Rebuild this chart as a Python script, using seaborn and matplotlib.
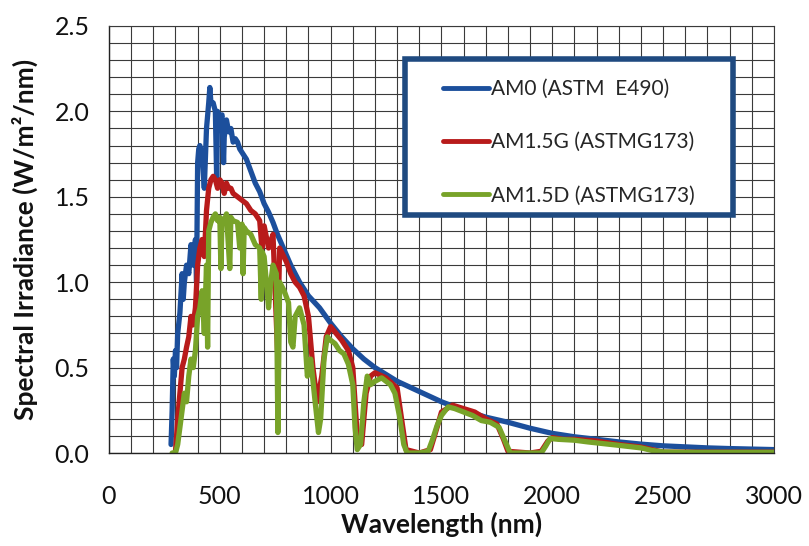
import numpy as np
import pandas as pd
import matplotlib
matplotlib.use("Agg")
import matplotlib.pyplot as plt
import matplotlib.patches as mpatches
import seaborn as sns
from matplotlib.ticker import MultipleLocator

# ---------------- data ----------------
series_names = ["AM0 (ASTM  E490)", "AM1.5G (ASTMG173)", "AM1.5D (ASTMG173)"]

am0_wl = [280, 285, 290, 295, 300, 305, 310, 320, 330, 335, 340, 350, 360, 370, 380,
          390, 395, 400, 405, 410, 420, 430, 440, 450, 455, 460, 470, 480, 486, 490,
          500, 510, 517, 520, 530, 540, 550, 560, 570, 580, 590, 600, 620, 640, 660,
          680, 700, 720, 740, 760, 780, 800, 820, 840, 860, 880, 900, 950, 1000, 1050,
          1100, 1150, 1200, 1250, 1300, 1350, 1400, 1450, 1500, 1600, 1700, 1800, 1900,
          2000, 2100, 2200, 2300, 2400, 2500, 2600, 2700, 2800, 2900, 3000]
am0_val = [0.05, 0.25, 0.55, 0.45, 0.60, 0.50, 0.70, 0.82, 1.05, 0.90, 1.00, 1.10, 1.05, 1.22, 1.10,
           1.25, 1.00, 1.70, 1.78, 1.80, 1.75, 1.55, 1.90, 2.05, 2.14, 2.05, 2.05, 2.00, 1.60, 2.00,
           1.95, 1.98, 1.70, 1.85, 1.95, 1.88, 1.90, 1.82, 1.84, 1.82, 1.78, 1.76, 1.72, 1.65, 1.58,
           1.53, 1.46, 1.41, 1.35, 1.28, 1.22, 1.16, 1.10, 1.05, 1.00, 0.96, 0.92, 0.85, 0.76, 0.68,
           0.61, 0.55, 0.50, 0.46, 0.42, 0.39, 0.36, 0.33, 0.30, 0.25, 0.21, 0.18, 0.145,
           0.115, 0.095, 0.08, 0.065, 0.052, 0.042, 0.036, 0.030, 0.026, 0.023, 0.020]

g_wl = [295, 300, 305, 310, 320, 330, 340, 350, 360, 370, 380, 390, 400, 410, 420,
        430, 440, 450, 460, 470, 480, 490, 500, 510, 520, 530, 540, 550, 560, 580,
        600, 620, 640, 660, 680, 690, 700, 720, 740, 760, 770, 800, 820, 840, 860,
        880, 900, 920, 940, 960, 980, 1000, 1050, 1080, 1100, 1120, 1140, 1160, 1180, 1200,
        1250, 1300, 1320, 1340, 1400, 1450, 1480, 1500, 1550, 1600, 1650, 1700, 1750, 1780,
        1800, 1900, 1950, 1980, 2000, 2050, 2100, 2200, 2300, 2400, 2450, 2500, 3000]
g_val = [0.0, 0.01, 0.10, 0.20, 0.35, 0.50, 0.55, 0.62, 0.68, 0.80, 0.75, 0.85, 1.10, 1.20, 1.25,
         1.15, 1.42, 1.55, 1.60, 1.62, 1.60, 1.55, 1.60, 1.58, 1.52, 1.58, 1.55, 1.55, 1.52, 1.50,
         1.48, 1.46, 1.42, 1.40, 1.36, 1.20, 1.33, 1.20, 1.28, 0.60, 1.20, 1.12, 1.05, 1.00, 0.97,
         0.92, 0.80, 0.50, 0.30, 0.45, 0.68, 0.74, 0.66, 0.60, 0.50, 0.10, 0.05, 0.35, 0.45, 0.47,
         0.44, 0.38, 0.20, 0.02, 0.0, 0.02, 0.15, 0.24, 0.28, 0.26, 0.24, 0.20, 0.17, 0.08,
         0.01, 0.0, 0.01, 0.07, 0.09, 0.08, 0.08, 0.07, 0.05, 0.035, 0.02, 0.005, 0.005]

d_wl = [285, 300, 310, 320, 330, 340, 350, 360, 370, 380, 390, 400, 410, 420, 430,
        440, 445, 450, 460, 470, 480, 490, 500, 505, 510, 520, 530, 545, 550, 560,
        580, 590, 600, 605, 610, 620, 640, 650, 660, 680, 687, 690, 700, 720, 730,
        740, 755, 762, 770, 790, 810, 820, 830, 840, 860, 880, 895, 910, 930, 945,
        955, 970, 985, 1000, 1020, 1040, 1060, 1080, 1100, 1110, 1120, 1135, 1150, 1165, 1180,
        1200, 1230, 1250, 1270, 1290, 1310, 1330, 1345, 1400, 1440, 1460, 1480, 1500, 1530, 1560,
        1600, 1640, 1680, 1720, 1760, 1790, 1810, 1900, 1950, 1970, 1990, 2030, 2100, 2160, 2230,
        2300, 2400, 2450, 2500, 2600, 3000]
d_val = [0.0, 0.0, 0.05, 0.15, 0.25, 0.35, 0.30, 0.45, 0.55, 0.50, 0.60, 0.80, 0.85, 0.95, 0.70,
         1.10, 0.62, 1.30, 1.35, 1.38, 1.40, 1.36, 1.38, 1.08, 1.37, 1.35, 1.40, 1.08, 1.38, 1.36,
         1.35, 1.20, 1.34, 1.05, 1.32, 1.30, 1.28, 1.25, 1.22, 1.20, 0.90, 1.18, 1.15, 0.85, 1.00,
         1.10, 1.05, 0.12, 1.00, 0.95, 0.88, 0.65, 0.62, 0.80, 0.85, 0.75, 0.45, 0.55, 0.30, 0.12,
         0.20, 0.55, 0.68, 0.66, 0.64, 0.60, 0.58, 0.52, 0.40, 0.15, 0.02, 0.05, 0.30, 0.45, 0.40,
         0.42, 0.44, 0.42, 0.40, 0.35, 0.22, 0.05, 0.0, 0.0, 0.01, 0.08, 0.16, 0.22, 0.27, 0.26,
         0.24, 0.22, 0.19, 0.18, 0.15, 0.06, 0.0, 0.0, 0.0, 0.04, 0.085, 0.08, 0.075, 0.065, 0.055,
         0.045, 0.03, 0.015, 0.006, 0.004, 0.004]

x_ticks = [0, 500, 1000, 1500, 2000, 2500, 3000]
y_ticks = [0.0, 0.5, 1.0, 1.5, 2.0, 2.5]
x_label = "Wavelength (nm)"
y_label = "Spectral Irradiance (W/m²/nm)"

# ---------------- build table ----------------
df = pd.concat([
    pd.DataFrame({"wl": am0_wl, "val": am0_val, "series": series_names[0]}),
    pd.DataFrame({"wl": g_wl, "val": g_val, "series": series_names[1]}),
    pd.DataFrame({"wl": d_wl, "val": d_val, "series": series_names[2]}),
], ignore_index=True)

colors = ["#1c4f9c", "#b81b1b", "#78a329"]

sns.set_style("white")
plt.rcParams["font.family"] = ["Lato", "DejaVu Sans"]

fig = plt.figure(figsize=(8.09, 5.46), dpi=100)
ax = fig.add_axes([0.1347, 0.1703, 0.8220, 0.7821])

sns.lineplot(data=df, x="wl", y="val", hue="series", hue_order=series_names,
             palette=colors, estimator=None, sort=False, linewidth=3.8, ax=ax)

ax.set_xlim(0, 3000)
ax.set_ylim(0, 2.5)
ax.set_xticks(x_ticks)
ax.set_yticks(y_ticks)
ax.set_yticklabels([f"{v:.1f}" for v in y_ticks])
ax.xaxis.set_minor_locator(MultipleLocator(100))
ax.yaxis.set_minor_locator(MultipleLocator(0.1))
ax.grid(which="both", color="#3a3a3a", linewidth=0.8)
ax.set_axisbelow(True)
ax.tick_params(axis="x", which="major", direction="out", length=7, width=0.9,
               color="#222222", labelsize=18, pad=16, labelcolor="#111111")
ax.tick_params(axis="y", which="major", direction="out", length=5, width=0.9,
               color="#222222", labelsize=18, pad=9, labelcolor="#111111")
ax.tick_params(axis="both", which="minor", length=0)
for side in ["left", "bottom"]:
    ax.spines[side].set_color("#222222")
    ax.spines[side].set_linewidth(1.0)
for side in ["top", "right"]:
    ax.spines[side].set_color("#3a3a3a")
    ax.spines[side].set_linewidth(0.8)

ax.set_xlabel(x_label, fontsize=19, fontweight="bold", labelpad=3, color="#111111")
ax.set_ylabel(y_label, fontsize=19, fontweight="bold", labelpad=12, color="#111111")

# legend frame (thick dark-blue box) drawn as a patch, entries placed inside it
frame = mpatches.Rectangle((0.445, 0.557), 0.493, 0.366, transform=ax.transAxes,
                           facecolor="white", edgecolor="#1f4a80", linewidth=4,
                           zorder=5)
ax.add_patch(frame)
leg = ax.legend(loc="upper left", bbox_to_anchor=(0.502, 0.876), fontsize=15,
                frameon=False, borderpad=0, labelspacing=1.6,
                handlelength=2.2, handletextpad=0.12, borderaxespad=0)
leg.set_zorder(6)
for line in leg.get_lines():
    line.set_linewidth(3.5)

fig.savefig("out.png", dpi=100)
